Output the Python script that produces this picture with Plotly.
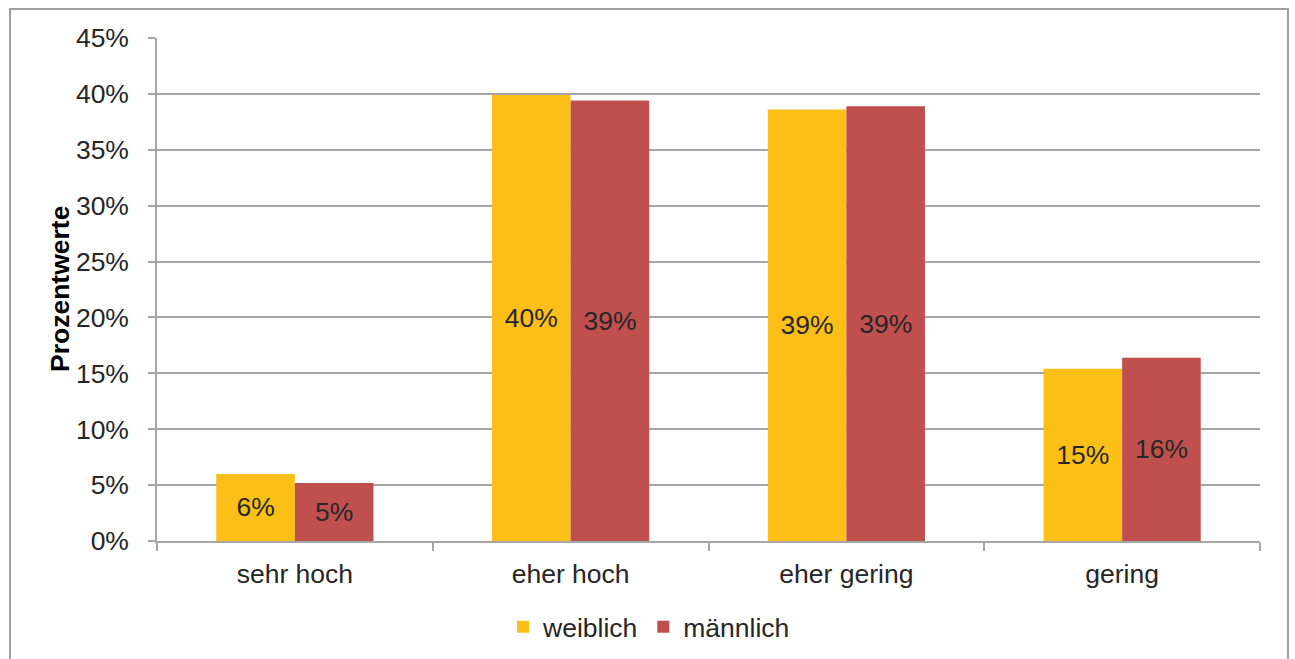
import plotly.graph_objects as go

categories = ["sehr hoch", "eher hoch", "eher gering", "gering"]
weiblich = [6.0, 39.9, 38.6, 15.4]
maennlich = [5.2, 39.4, 38.9, 16.4]
series_names = ["weiblich", "männlich"]
y_ticks = [0, 5, 10, 15, 20, 25, 30, 35, 40, 45]
y_tick_labels = [f"{v}%" for v in y_ticks]

FONT = "Liberation Sans, Arial, sans-serif"
FS = 26.5
TXT = "#262626"
GRID = "#A6A6A6"

fig = go.Figure()
for name, vals, col in [(series_names[0], weiblich, "#FBBF17"), (series_names[1], maennlich, "#C0504D")]:
    fig.add_trace(go.Bar(
        x=categories, y=vals, name=name, marker=dict(color=col, line=dict(width=0)),
        texttemplate="%{y:.0f}%", textposition="inside", insidetextanchor="middle",
        constraintext="none", textfont=dict(family=FONT, size=FS, color=TXT),
    ))

W, H = 1295, 659
L, R, T, B = 157, 1260, 38, 541
pw, ph = R - L, B - T

fig.update_layout(
    width=W, height=H, barmode="group", bargap=0.43, bargroupgap=0,
    margin=dict(l=L, r=W - R, t=T, b=H - B, autoexpand=False),
    paper_bgcolor="white", plot_bgcolor="white",
    font=dict(family=FONT, size=FS, color=TXT),
    legend=dict(orientation="h", x=(649 - L) / pw, xanchor="center", y=(B - 627) / ph, yanchor="middle",
                font=dict(size=FS, color=TXT), itemwidth=30, traceorder="normal"),
    xaxis=dict(showline=True, linecolor=GRID, linewidth=1.5, ticks="outside", tickson="boundaries",
               ticklen=8, tickcolor=GRID, tickwidth=1.5, showgrid=False, ticklabelstandoff=8,
               tickfont=dict(size=FS, color=TXT)),
    yaxis=dict(range=[0, 45], tickmode="array", tickvals=y_ticks, ticktext=y_tick_labels,
               showline=True, linecolor=GRID, linewidth=1.5,
               ticks="outside", ticklen=7, tickcolor=GRID, tickwidth=1.5, showgrid=True, gridcolor=GRID,
               gridwidth=1.5, zeroline=False, ticklabelstandoff=14, tickfont=dict(size=FS, color=TXT)),
    annotations=[dict(text="<b>Prozentwerte</b>", textangle=-90, xref="paper", yref="paper",
                      x=(60 - L) / pw, y=(B - 289) / ph, xanchor="center", yanchor="middle",
                      showarrow=False, font=dict(size=FS, color="#000000"))],
    shapes=[dict(type="rect", xref="paper", yref="paper",
                 x0=(10 - L) / pw, x1=(1288 - L) / pw, y0=(B - 700) / ph, y1=(B - 9) / ph,
                 line=dict(color="#A0A0A0", width=2), fillcolor="rgba(0,0,0,0)", layer="below")],
)

fig.write_html("out.html", config={"displayModeBar": False},
               post_script="document.body.style.margin='0';document.body.style.padding='0';")
